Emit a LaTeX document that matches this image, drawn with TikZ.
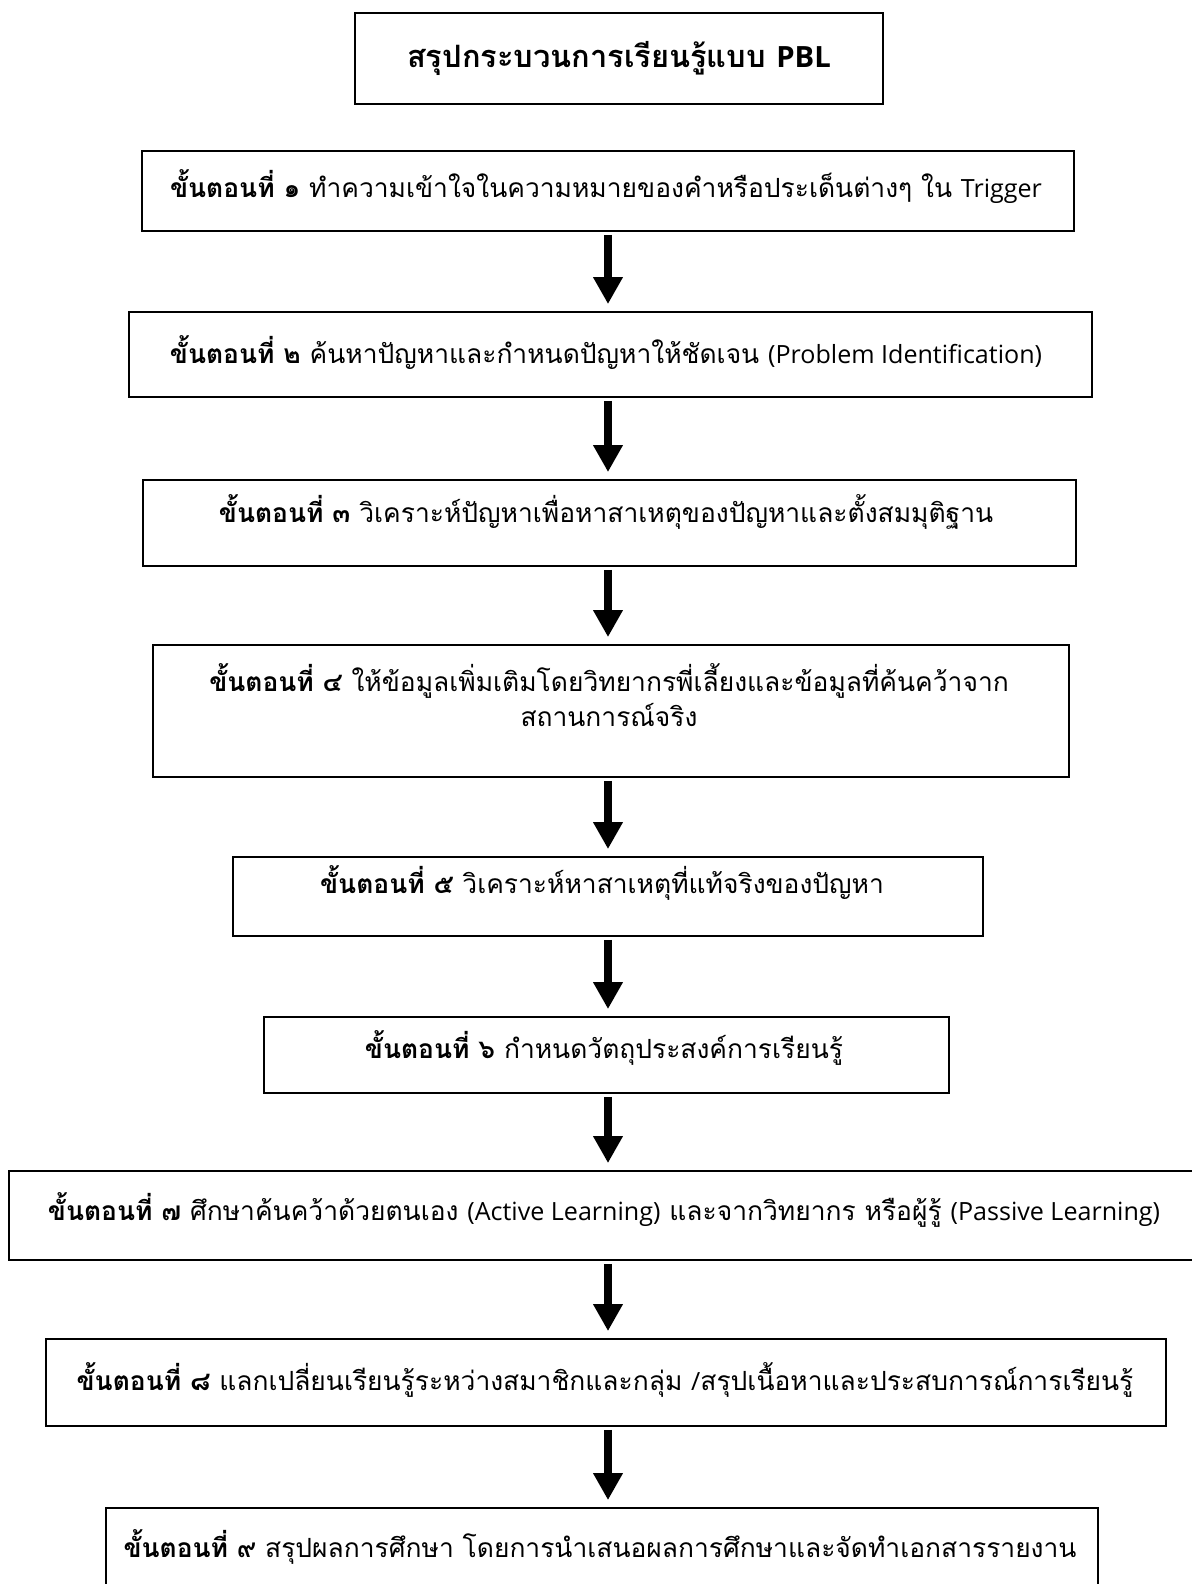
\documentclass[tikz,border=0pt]{standalone}
\usepackage{fontspec}
\setmainfont[Script=Thai]{Loma}
\newfontfamily\latinpart[Scale=0.95]{Open Sans}
\usetikzlibrary{arrows.meta}
\tikzset{
  stepbox/.style={draw=black, line width=0.9pt, rectangle, inner sep=0pt},
  steptext/.style={inner sep=0pt, font=\fontsize{13.2pt}{17.5pt}\selectfont, align=center},
  titletext/.style={inner sep=0pt, font=\fontsize{15.4pt}{19pt}\selectfont\bfseries},
  bigarrow/.style={line width=4pt, -{Triangle[width=14pt,length=13.5pt]}, shorten <=1.5pt, shorten >=3.5pt}
}
\begin{document}
\begin{tikzpicture}[x=0.5pt,y=-0.5pt]
\useasboundingbox (0,0) rectangle (1191,1584);
\fill[white] (0,0) rectangle (1191,1584);
\coordinate (ax) at (608,0);
% boxes (centre x, centre y in px; sizes in pt)
\node[stepbox, minimum width=264pt, minimum height=45.5pt] (b0) at (619,58.5) {};
\node[stepbox, minimum width=466pt, minimum height=40pt] (b1) at (608,191) {};
\node[stepbox, minimum width=481.5pt, minimum height=42.5pt] (b2) at (610.5,354.5) {};
\node[stepbox, minimum width=466.5pt, minimum height=43pt] (b3) at (609.5,523) {};
\node[stepbox, minimum width=458pt, minimum height=66pt] (b4) at (611,711) {};
\node[stepbox, minimum width=375pt, minimum height=39.5pt] (b5) at (608,896.5) {};
\node[stepbox, minimum width=342.5pt, minimum height=38pt] (b6) at (606.5,1055) {};
\node[stepbox, minimum width=600pt, minimum height=44.5pt] (b7) at (609,1215.5) {};
\node[stepbox, minimum width=560pt, minimum height=43.5pt] (b8) at (606,1382.5) {};
\node[stepbox, minimum width=496pt, minimum height=46pt] (b9) at (602,1554) {};
% texts
\node[titletext] (t0) at (619,58) {สรุปกระบวนการเรียนรู้แบบ {\latinpart PBL}};
\node[steptext] (t1) at (606,187) {\textbf{ขั้นตอนที่ ๑} ทำความเข้าใจในความหมายของคำหรือประเด็นต่างๆ ใน {\latinpart Trigger}};
\node[steptext] (t2) at (606,353) {\textbf{ขั้นตอนที่ ๒} ค้นหาปัญหาและกำหนดปัญหาให้ชัดเจน {\latinpart (Problem Identification)}};
\node[steptext] (t3) at (606,512) {\textbf{ขั้นตอนที่ ๓} วิเคราะห์ปัญหาเพื่อหาสาเหตุของปัญหาและตั้งสมมุติฐาน};
\node[steptext] (t4) at (609,695) {\textbf{ขั้นตอนที่ ๔} ให้ข้อมูลเพิ่มเติมโดยวิทยากรพี่เลี้ยงและข้อมูลที่ค้นคว้าจาก\\สถานการณ์จริง};
\node[steptext] (t5) at (602,883) {\textbf{ขั้นตอนที่ ๕} วิเคราะห์หาสาเหตุที่แท้จริงของปัญหา};
\node[steptext] (t6) at (604,1048) {\textbf{ขั้นตอนที่ ๖} กำหนดวัตถุประสงค์การเรียนรู้};
\node[steptext] (t7) at (604,1210) {\textbf{ขั้นตอนที่ ๗} ศึกษาค้นคว้าด้วยตนเอง {\latinpart (Active Learning)} และจากวิทยากร หรือผู้รู้ {\latinpart (Passive Learning)}};
\node[steptext] (t8) at (605,1380) {\textbf{ขั้นตอนที่ ๘} แลกเปลี่ยนเรียนรู้ระหว่างสมาชิกและกลุ่ม {\latinpart /}สรุปเนื้อหาและประสบการณ์การเรียนรู้};
\node[steptext] (t9) at (600,1547) {\textbf{ขั้นตอนที่ ๙} สรุปผลการศึกษา โดยการนำเสนอผลการศึกษาและจัดทำเอกสารรายงาน};
% arrows
\draw[bigarrow] (b1.south -| ax) -- (b2.north -| ax);
\draw[bigarrow] (b2.south -| ax) -- (b3.north -| ax);
\draw[bigarrow] (b3.south -| ax) -- (b4.north -| ax);
\draw[bigarrow] (b4.south -| ax) -- (b5.north -| ax);
\draw[bigarrow] (b5.south -| ax) -- (b6.north -| ax);
\draw[bigarrow] (b6.south -| ax) -- (b7.north -| ax);
\draw[bigarrow] (b7.south -| ax) -- (b8.north -| ax);
\draw[bigarrow] (b8.south -| ax) -- (b9.north -| ax);
\end{tikzpicture}
\end{document}
